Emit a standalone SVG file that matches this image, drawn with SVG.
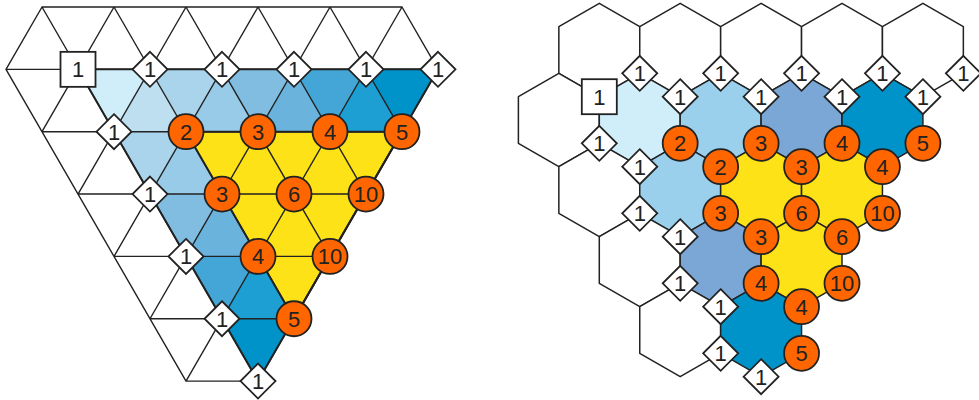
<svg xmlns="http://www.w3.org/2000/svg" xmlns:xlink="http://www.w3.org/1999/xlink" width="979" height="400" viewBox="0 0 979 400">
<style>
.ln{stroke:#222;stroke-width:1.4;fill:none;stroke-linecap:round}
.out{stroke:#222;stroke-width:2;fill:none;stroke-linejoin:round}
.sq,.dm{fill:#fff;stroke:#222;stroke-width:1.8}
.ci{fill:#ff6600;stroke:#222;stroke-width:1.8}
.hx{stroke:#222;stroke-width:1.5;stroke-linejoin:round}
.w{fill:#fff}.c1{fill:#cfeefa}.c2{fill:#bedff0}.c3{fill:#a9d4ec}.c4{fill:#97cbe8}.c5{fill:#80bde0}.c6{fill:#6ab3dc}.c7{fill:#44a6d6}.c8{fill:#1d9fd3}.c9{fill:#0093c9}
.y{fill:#fce216}.lb{fill:#9ad0ec}.mb{fill:#7aa7d6}.db{fill:#0093c9}
text{font-family:"Liberation Sans",Arial,sans-serif;font-size:22px;text-anchor:middle;fill:#222}
</style>
<defs>
<rect id="sq" x="-17.5" y="-17.5" width="35" height="35"/>
<polygon id="dm" points="0,-17.5 17.5,0 0,17.5 -17.5,0"/>
<circle id="ci" r="17.5"/>
<polygon id="hex" points="0,-46.7 40.45,-23.35 40.45,23.35 0,46.7 -40.45,23.35 -40.45,-23.35"/>
</defs>

<!-- LEFT: triangular lattice fills -->
<g id="left-fills" stroke="none">
<polygon class="c1" points="78,69.35 150,69.35 114,131.7"/>
<polygon class="c2" points="150,69.35 114,131.7 186,131.7"/>
<polygon class="c3" points="150,69.35 222,69.35 186,131.7"/>
<polygon class="c4" points="222,69.35 186,131.7 258,131.7"/>
<polygon class="c5" points="222,69.35 294,69.35 258,131.7"/>
<polygon class="c6" points="294,69.35 258,131.7 330,131.7"/>
<polygon class="c7" points="294,69.35 366,69.35 330,131.7"/>
<polygon class="c8" points="366,69.35 330,131.7 402,131.7"/>
<polygon class="c9" points="366,69.35 438,69.35 402,131.7"/>
<polygon class="c3" points="114,131.7 186,131.7 150,194.05"/>
<polygon class="c4" points="186,131.7 150,194.05 222,194.05"/>
<polygon class="c5" points="150,194.05 222,194.05 186,256.4"/>
<polygon class="c6" points="222,194.05 186,256.4 258,256.4"/>
<polygon class="c7" points="186,256.4 258,256.4 222,318.75"/>
<polygon class="c8" points="258,256.4 222,318.75 294,318.75"/>
<polygon class="c9" points="222,318.75 294,318.75 258,381.1"/>
<polygon class="y" points="186,131.7 402,131.7 294,318.75"/>
</g>

<g id="connectors">
<path class="ln" d="M42 7H402M6 69.35H438M42 131.7H402M78 194.05H366M114 256.4H330M150 318.75H294M186 381.1H258
M6 69.35L186 381.1M42 7L258 381.1M114 7L294 318.75M186 7L330 256.4M258 7L366 194.05M330 7L402 131.7M402 7L438 69.35
M42 7L6 69.35M114 7L42 131.7M186 7L78 194.05M258 7L114 256.4M330 7L150 318.75M402 7L186 381.1M438 69.35L258 381.1"/>
<polygon class="out" points="78,69.35 438,69.35 258,381.1"/>
<polygon class="out" points="186,131.7 402,131.7 294,318.75"/>
</g>

<!-- RIGHT: hexagons -->
<g id="hexes">
<use href="#hex" class="hx w" x="599.3" y="50"/>
<use href="#hex" class="hx w" x="680.2" y="50"/>
<use href="#hex" class="hx w" x="761.1" y="50"/>
<use href="#hex" class="hx w" x="842" y="50"/>
<use href="#hex" class="hx w" x="922.9" y="50"/>
<use href="#hex" class="hx w" x="558.85" y="120"/>
<use href="#hex" class="hx c1" x="639.75" y="120"/>
<use href="#hex" class="hx lb" x="720.65" y="120"/>
<use href="#hex" class="hx mb" x="801.55" y="120"/>
<use href="#hex" class="hx db" x="882.45" y="120"/>
<use href="#hex" class="hx w" x="599.3" y="190"/>
<use href="#hex" class="hx lb" x="680.2" y="190"/>
<use href="#hex" class="hx y" x="761.1" y="190"/>
<use href="#hex" class="hx y" x="842" y="190"/>
<use href="#hex" class="hx w" x="639.75" y="260"/>
<use href="#hex" class="hx mb" x="720.65" y="260"/>
<use href="#hex" class="hx y" x="801.55" y="260"/>
<use href="#hex" class="hx w" x="680.2" y="330"/>
<use href="#hex" class="hx db" x="761.1" y="330"/>
</g>

<!-- LEFT nodes -->
<g id="L-sq" transform="translate(78,69.35)"><use href="#sq" class="sq"/><text y="8">1</text></g>
<g id="L-t1" transform="translate(150,69.35)"><use href="#dm" class="dm"/><text y="8">1</text></g>
<g id="L-t2" transform="translate(222,69.35)"><use href="#dm" class="dm"/><text y="8">1</text></g>
<g id="L-t3" transform="translate(294,69.35)"><use href="#dm" class="dm"/><text y="8">1</text></g>
<g id="L-t4" transform="translate(366,69.35)"><use href="#dm" class="dm"/><text y="8">1</text></g>
<g id="L-t5" transform="translate(438,69.35)"><use href="#dm" class="dm"/><text y="8">1</text></g>
<g id="L-l1" transform="translate(114,131.7)"><use href="#dm" class="dm"/><text y="8">1</text></g>
<g id="L-l2" transform="translate(150,194.05)"><use href="#dm" class="dm"/><text y="8">1</text></g>
<g id="L-l3" transform="translate(186,256.4)"><use href="#dm" class="dm"/><text y="8">1</text></g>
<g id="L-l4" transform="translate(222,318.75)"><use href="#dm" class="dm"/><text y="8">1</text></g>
<g id="L-l5" transform="translate(258,381.1)"><use href="#dm" class="dm"/><text y="8">1</text></g>
<g id="L-c1" transform="translate(186,131.7)"><use href="#ci" class="ci"/><text y="8">2</text></g>
<g id="L-c2" transform="translate(258,131.7)"><use href="#ci" class="ci"/><text y="8">3</text></g>
<g id="L-c3" transform="translate(330,131.7)"><use href="#ci" class="ci"/><text y="8">4</text></g>
<g id="L-c4" transform="translate(402,131.7)"><use href="#ci" class="ci"/><text y="8">5</text></g>
<g id="L-c5" transform="translate(222,194.05)"><use href="#ci" class="ci"/><text y="8">3</text></g>
<g id="L-c6" transform="translate(294,194.05)"><use href="#ci" class="ci"/><text y="8">6</text></g>
<g id="L-c7" transform="translate(366,194.05)"><use href="#ci" class="ci"/><text y="8">10</text></g>
<g id="L-c8" transform="translate(258,256.4)"><use href="#ci" class="ci"/><text y="8">4</text></g>
<g id="L-c9" transform="translate(330,256.4)"><use href="#ci" class="ci"/><text y="8">10</text></g>
<g id="L-c10" transform="translate(294,318.75)"><use href="#ci" class="ci"/><text y="8">5</text></g>

<!-- RIGHT nodes -->
<g id="R-sq" transform="translate(599.3,96.7)"><use href="#sq" class="sq"/><text y="8">1</text></g>
<g id="R-t1" transform="translate(639.75,73.35)"><use href="#dm" class="dm"/><text y="8">1</text></g>
<g id="R-t2" transform="translate(680.2,96.7)"><use href="#dm" class="dm"/><text y="8">1</text></g>
<g id="R-t3" transform="translate(720.65,73.35)"><use href="#dm" class="dm"/><text y="8">1</text></g>
<g id="R-t4" transform="translate(761.1,96.7)"><use href="#dm" class="dm"/><text y="8">1</text></g>
<g id="R-t5" transform="translate(801.55,73.35)"><use href="#dm" class="dm"/><text y="8">1</text></g>
<g id="R-t6" transform="translate(842,96.7)"><use href="#dm" class="dm"/><text y="8">1</text></g>
<g id="R-t7" transform="translate(882.45,73.35)"><use href="#dm" class="dm"/><text y="8">1</text></g>
<g id="R-t8" transform="translate(922.9,96.7)"><use href="#dm" class="dm"/><text y="8">1</text></g>
<g id="R-t9" transform="translate(963.35,73.35)"><use href="#dm" class="dm"/><text y="8">1</text></g>
<g id="R-l1" transform="translate(599.3,143.3)"><use href="#dm" class="dm"/><text y="8">1</text></g>
<g id="R-l2" transform="translate(639.75,166.65)"><use href="#dm" class="dm"/><text y="8">1</text></g>
<g id="R-l3" transform="translate(639.75,213.35)"><use href="#dm" class="dm"/><text y="8">1</text></g>
<g id="R-l4" transform="translate(680.2,236.7)"><use href="#dm" class="dm"/><text y="8">1</text></g>
<g id="R-l5" transform="translate(680.2,283.3)"><use href="#dm" class="dm"/><text y="8">1</text></g>
<g id="R-l6" transform="translate(720.65,306.65)"><use href="#dm" class="dm"/><text y="8">1</text></g>
<g id="R-l7" transform="translate(720.65,353.35)"><use href="#dm" class="dm"/><text y="8">1</text></g>
<g id="R-l8" transform="translate(761.1,376.7)"><use href="#dm" class="dm"/><text y="8">1</text></g>
<g id="R-c1" transform="translate(680.2,143.3)"><use href="#ci" class="ci"/><text y="8">2</text></g>
<g id="R-c2" transform="translate(720.65,166.65)"><use href="#ci" class="ci"/><text y="8">2</text></g>
<g id="R-c3" transform="translate(761.1,143.3)"><use href="#ci" class="ci"/><text y="8">3</text></g>
<g id="R-c4" transform="translate(801.55,166.65)"><use href="#ci" class="ci"/><text y="8">3</text></g>
<g id="R-c5" transform="translate(842,143.3)"><use href="#ci" class="ci"/><text y="8">4</text></g>
<g id="R-c6" transform="translate(882.45,166.65)"><use href="#ci" class="ci"/><text y="8">4</text></g>
<g id="R-c7" transform="translate(922.9,143.3)"><use href="#ci" class="ci"/><text y="8">5</text></g>
<g id="R-c8" transform="translate(720.65,213.35)"><use href="#ci" class="ci"/><text y="8">3</text></g>
<g id="R-c9" transform="translate(801.55,213.35)"><use href="#ci" class="ci"/><text y="8">6</text></g>
<g id="R-c10" transform="translate(882.45,213.35)"><use href="#ci" class="ci"/><text y="8">10</text></g>
<g id="R-c11" transform="translate(761.1,236.7)"><use href="#ci" class="ci"/><text y="8">3</text></g>
<g id="R-c12" transform="translate(842,236.7)"><use href="#ci" class="ci"/><text y="8">6</text></g>
<g id="R-c13" transform="translate(761.1,283.3)"><use href="#ci" class="ci"/><text y="8">4</text></g>
<g id="R-c14" transform="translate(842,283.3)"><use href="#ci" class="ci"/><text y="8">10</text></g>
<g id="R-c15" transform="translate(801.55,306.65)"><use href="#ci" class="ci"/><text y="8">4</text></g>
<g id="R-c16" transform="translate(801.55,353.35)"><use href="#ci" class="ci"/><text y="8">5</text></g>
</svg>
